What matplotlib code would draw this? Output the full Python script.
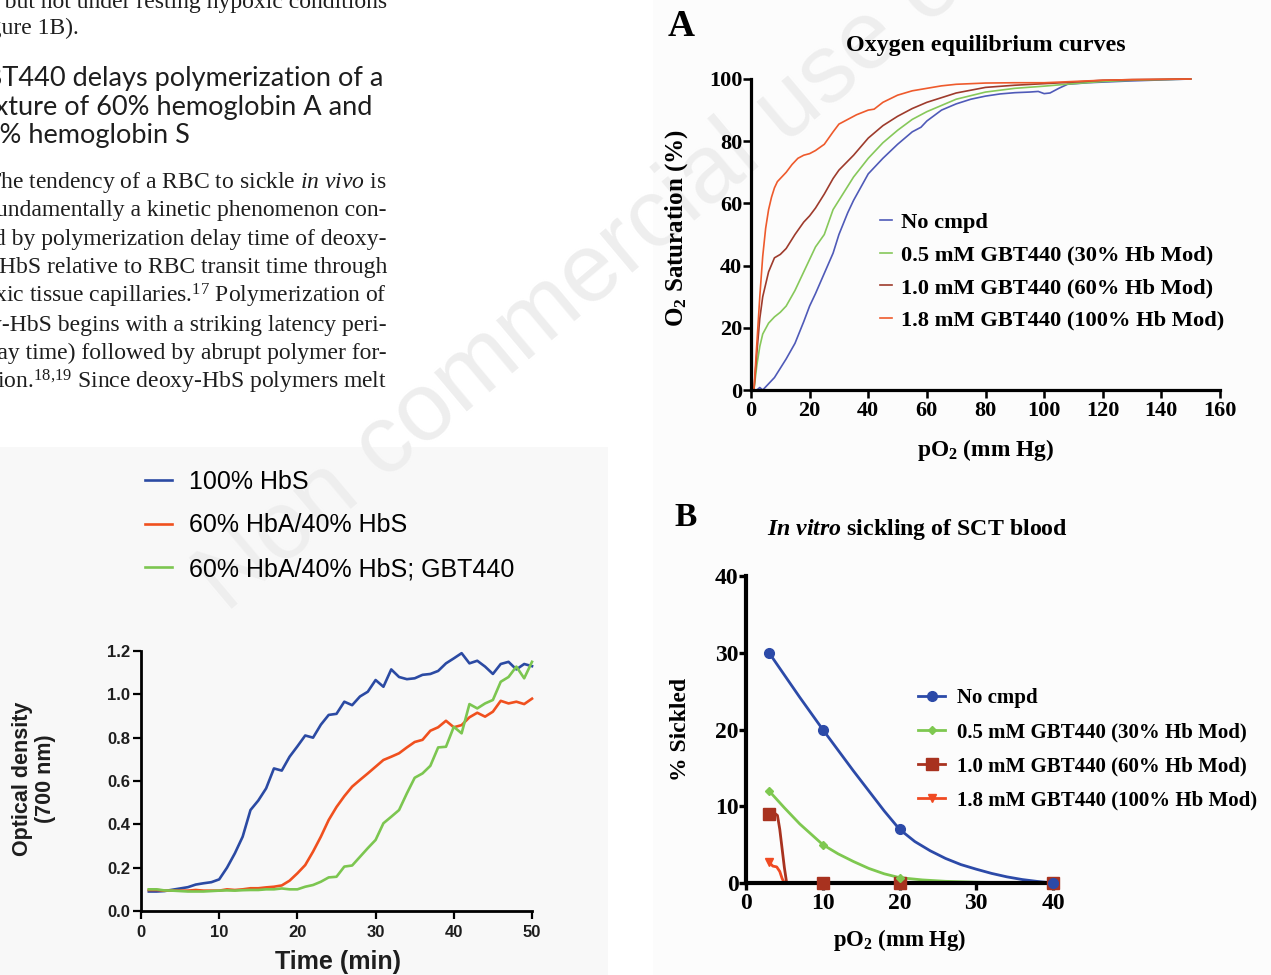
import matplotlib
matplotlib.use("Agg")
import matplotlib.pyplot as plt
from matplotlib.patches import Rectangle

# ─────────────────────────────────────────────
# DATA
# ─────────────────────────────────────────────
# left panel: turbidity (OD 700 nm) vs time
time_min = list(range(1, 51))
od_hbs = [0.09, 0.09, 0.092, 0.098, 0.104, 0.11, 0.122, 0.128, 0.133, 0.146,
          0.2, 0.266, 0.343, 0.466, 0.51, 0.566, 0.658, 0.648, 0.712, 0.76,
          0.81, 0.80, 0.86, 0.905, 0.91, 0.966, 0.95, 0.99, 1.012, 1.066,
          1.035, 1.115, 1.08, 1.07, 1.074, 1.09, 1.094, 1.108, 1.143, 1.166,
          1.19, 1.143, 1.155, 1.128, 1.094, 1.14, 1.15, 1.115, 1.14, 1.13]
od_mix = [0.097, 0.097, 0.094, 0.094, 0.094, 0.094, 0.097, 0.094, 0.094, 0.094,
          0.1, 0.097, 0.1, 0.105, 0.105, 0.109, 0.112, 0.118, 0.14, 0.174,
          0.212, 0.274, 0.343, 0.42, 0.48, 0.53, 0.574, 0.605, 0.635, 0.666,
          0.697, 0.712, 0.728, 0.755, 0.78, 0.79, 0.832, 0.848, 0.878, 0.848,
          0.858, 0.894, 0.915, 0.897, 0.92, 0.97, 0.958, 0.966, 0.955, 0.98]
od_mix_gbt = [0.1, 0.1, 0.095, 0.094, 0.092, 0.09, 0.09, 0.09, 0.092, 0.094,
              0.095, 0.094, 0.096, 0.097, 0.097, 0.1, 0.1, 0.104, 0.1, 0.1,
              0.112, 0.12, 0.135, 0.155, 0.158, 0.205, 0.21, 0.25, 0.29, 0.328,
              0.405, 0.435, 0.466, 0.543, 0.615, 0.635, 0.67, 0.755, 0.758, 0.85,
              0.82, 0.955, 0.935, 0.958, 0.974, 1.058, 1.08, 1.128, 1.074, 1.15]
od_labels = ["100% HbS", "60% HbA/40% HbS", "60% HbA/40% HbS; GBT440"]

# panel A: oxygen equilibrium curves
oec_none_x = [2, 3, 4, 5, 6, 8, 10, 12, 15, 18, 20, 22, 25, 28, 30, 33, 35, 40, 45,
              50, 55, 58, 60, 65, 70, 75, 80, 85, 90, 95, 98, 100, 102, 105, 108,
              115, 120, 130, 140, 150]
oec_none_y = [0, 0.8, 0, 1, 2, 4, 7, 10, 15, 22, 27, 31, 37.5, 44, 50, 57, 61, 69.5,
              74.5, 79, 83, 84.5, 86.5, 90, 92, 93.5, 94.5, 95.2, 95.6, 95.8, 96,
              95.3, 95.5, 97, 98.3, 98.8, 99, 99.4, 99.7, 100]
oec_05_x = [1, 2, 3, 4, 6, 8, 10, 12, 15, 18, 20, 22, 25, 28, 30, 35, 40, 45, 50,
            55, 60, 65, 70, 80, 90, 100, 110, 120, 130, 140, 150]
oec_05_y = [0, 8, 14, 18, 21.5, 23.5, 25, 27, 32, 38, 42, 46, 50, 58, 61, 68.5,
            74.5, 79.5, 83.5, 87, 89.5, 91.5, 93.5, 95.8, 97, 97.7, 98.5, 99.2,
            99.6, 99.8, 100]
oec_10_x = [1, 2, 3, 4, 5, 6, 8, 10, 12, 15, 18, 20, 22, 25, 28, 30, 35, 40, 45,
            50, 55, 60, 65, 70, 80, 90, 100, 110, 120, 130, 140, 150]
oec_10_y = [0, 12, 23, 30, 34, 38, 42.5, 43.6, 45.5, 50, 54, 56, 58.5, 63, 68,
            70.7, 75.5, 81, 85, 88, 90.5, 92.5, 94, 95.5, 97.3, 98, 98.5, 99,
            99.6, 99.8, 99.9, 100]
oec_18_x = [1, 2, 3, 4, 5, 6, 7, 8, 9, 10, 12, 14, 16, 18, 20, 22, 25, 28, 30, 33,
            36, 40, 42, 45, 50, 55, 60, 65, 70, 80, 90, 100, 110, 120, 130, 140, 150]
oec_18_y = [0, 15, 30, 43, 52, 58, 62, 65, 67, 68, 70, 72.5, 74.5, 75.5, 76, 77,
            79, 83, 85.5, 87, 88.5, 90, 90.3, 92.5, 94.8, 96.2, 97, 97.8, 98.3,
            98.7, 98.8, 98.8, 99.2, 99.6, 99.8, 99.9, 100]
oec_labels = ["No cmpd", "0.5 mM GBT440 (30% Hb Mod)",
              "1.0 mM GBT440 (60% Hb Mod)", "1.8 mM GBT440 (100% Hb Mod)"]

po2_pts = [3, 10, 20, 40]
sick_none = [30, 20, 7, 0]
sick_05 = [12, 5, 0.7, 0]
sick_10 = [9, 0, 0, 0]
sick_18 = [2.7, 0, 0, 0]
fit_none_x = [3, 5, 7, 10, 12, 14, 16, 18, 20, 22, 24, 26, 28, 30, 32, 34, 36, 38, 40]
fit_none_y = [30, 27.1, 24.2, 20, 17.3, 14.6, 12, 9.4, 7, 5.4, 4.2, 3.2, 2.4, 1.8,
              1.25, 0.8, 0.45, 0.2, 0]
fit_05_x = [3, 5, 7, 10, 12, 14, 16, 18, 20, 23, 26, 30, 35, 40]
fit_05_y = [12, 9.8, 7.7, 5, 3.8, 2.8, 1.9, 1.2, 0.7, 0.4, 0.22, 0.1, 0.03, 0]
fit_10_x = [3, 3.6, 4.1, 4.4, 4.7, 5.0, 5.3, 10, 20, 40]
fit_10_y = [9, 9.2, 8.8, 7, 4.5, 2, 0, 0, 0, 0]
fit_18_x = [3, 3.5, 4.0, 4.4, 4.7, 5.0, 10, 20, 40]
fit_18_y = [2.7, 2.2, 2.1, 1.5, 0.6, 0, 0, 0, 0]

# page text beside the figure
heading_lines = ["GBT440 delays polymerization of a",
                 "mixture of 60% hemoglobin A and",
                 "40% hemoglobin S"]
body_lines = [r"The tendency of a RBC to sickle $\mathit{in\ vivo}$ is",
              "fundamentally a kinetic phenomenon con-",
              "trolled by polymerization delay time of deoxy-",
              "HbS relative to RBC transit time through",
              r"hypoxic tissue capillaries.$^{17}$ Polymerization of",
              "deoxy-HbS begins with a striking latency peri-",
              "od (delay time) followed by abrupt polymer for-",
              r"mation.$^{18{,}19}$ Since deoxy-HbS polymers melt"]

# ─────────────────────────────────────────────
# STYLE
# ─────────────────────────────────────────────
W, H = 1271, 975
SERIF = "Liberation Serif"
SANS = "Liberation Sans"
INK = "#1e1e1e"

plt.rcParams["mathtext.fontset"] = "custom"
plt.rcParams["mathtext.rm"] = "Liberation Serif"
plt.rcParams["mathtext.it"] = "Liberation Serif:italic"
plt.rcParams["mathtext.bf"] = "Liberation Serif:bold"
plt.rcParams["mathtext.bfit"] = "Liberation Serif:italic:bold"


def fx(px):
    return px / W


def fy(py):
    return 1 - py / H


def style_axes(ax, lw, family, size, tick_len=6, xpad=3, ypad=1):
    ax.patch.set_alpha(0)
    for side in ("top", "right"):
        ax.spines[side].set_visible(False)
    for side in ("left", "bottom"):
        ax.spines[side].set_linewidth(lw)
    ax.tick_params(direction="out", length=tick_len, width=lw * 0.8)
    ax.tick_params(axis="x", pad=xpad)
    ax.tick_params(axis="y", pad=ypad)
    for lbl in ax.get_xticklabels() + ax.get_yticklabels():
        lbl.set_fontfamily(family)
        lbl.set_fontweight("bold")
        lbl.set_fontsize(size)


fig = plt.figure(figsize=(W / 100, H / 100), dpi=100)

# faint scan backgrounds of the two figure images
fig.patches.append(Rectangle((0, 0), fx(608), fy(447), transform=fig.transFigure,
                             facecolor="#f8f8f8", edgecolor="none", zorder=-3))
fig.patches.append(Rectangle((fx(653), 0), 1 - fx(653), 1, transform=fig.transFigure,
                             facecolor="#fcfcfc", edgecolor="none", zorder=-3))

# watermark
fig.text(fx(226), fy(614), "Non commercial use only", rotation=40,
         rotation_mode="anchor", ha="left", va="baseline", fontsize=70,
         family=SANS, color="#eeeeee", zorder=-1)

# ─────────────────────────────────────────────
# PAGE TEXT
# ─────────────────────────────────────────────
fig.text(fx(387), fy(8), "ease but not under resting hypoxic conditions",
         ha="right", va="baseline", fontsize=17, family=SERIF, color=INK)
fig.text(fx(79), fy(34), "(Figure 1B).", ha="right", va="baseline",
         fontsize=17, family=SERIF, color=INK)

head_base = [86, 115, 143]
head_right = [383, 372, 190]
for line, yb, xr in zip(heading_lines, head_base, head_right):
    fig.text(fx(xr), fy(yb), line, ha="right", va="baseline", fontsize=19.5,
             family="Lato", color=INK)

body_base = [188, 216, 245, 273, 302, 331, 359, 388]
for line, yb in zip(body_lines, body_base):
    fig.text(fx(387), fy(yb), line, ha="right", va="baseline", fontsize=17,
             family=SERIF, color=INK)

# ─────────────────────────────────────────────
# LEFT: polymerization kinetics
# ─────────────────────────────────────────────
ax0 = fig.add_axes([fx(141), fy(911), fx(532) - fx(141), fy(651) - fy(911)])
od_colors = ["#2b4aa3", "#f0501e", "#7cc650"]
for vals, col, lab in zip([od_hbs, od_mix, od_mix_gbt], od_colors, od_labels):
    ax0.plot(time_min, vals, color=col, lw=1.9, label=lab, clip_on=False)
ax0.set_xlim(0, 50)
ax0.set_ylim(0, 1.2)
ax0.set_xticks([0, 10, 20, 30, 40, 50])
ax0.set_yticks([0.0, 0.2, 0.4, 0.6, 0.8, 1.0, 1.2])
ax0.set_yticklabels([f"{v:.1f}" for v in ax0.get_yticks()])
style_axes(ax0, 2.0, SANS, 12, tick_len=6, xpad=4, ypad=2)
for lbl in ax0.get_xticklabels() + ax0.get_yticklabels():
    lbl.set_color(INK)
fig.text(fx(338), fy(962), "Time (min)", ha="center", va="center",
         fontsize=18, fontweight="bold", family=SANS, color=INK)
fig.text(fx(34), fy(779), "Optical density\n(700 nm)", ha="center", va="center",
         rotation=90, fontsize=15.5, fontweight="bold", family=SANS,
         color=INK, linespacing=1.15)
ax0.legend(loc="upper left", bbox_to_anchor=(fx(145), fy(470)),
           bbox_transform=fig.transFigure, frameon=False, borderpad=0,
           borderaxespad=0, handlelength=1.08, handletextpad=0.68,
           labelspacing=0.78, prop={"family": SANS, "size": 18})

# ─────────────────────────────────────────────
# PANEL A: oxygen equilibrium curves
# ─────────────────────────────────────────────
ax1 = fig.add_axes([fx(751), fy(390), fx(1220) - fx(751), fy(79) - fy(390)])
oec_colors = ["#4f5ab8", "#86c85a", "#9e3b2c", "#ee5a2c"]
oec_sets = [(oec_none_x, oec_none_y), (oec_05_x, oec_05_y),
            (oec_10_x, oec_10_y), (oec_18_x, oec_18_y)]
for (xs, ys), col, lab in zip(oec_sets, oec_colors, oec_labels):
    ax1.plot(xs, ys, color=col, lw=1.2, label=lab, clip_on=False)
ax1.set_xlim(0, 160)
ax1.set_ylim(0, 100)
ax1.set_xticks(range(0, 161, 20))
ax1.set_yticks(range(0, 101, 20))
style_axes(ax1, 2.3, SERIF, 16, tick_len=6, xpad=2, ypad=0.3)
fig.text(fx(668), fy(27), "A", ha="left", va="center", fontsize=27,
         fontweight="bold", family=SERIF)
fig.text(fx(986), fy(45), "Oxygen equilibrium curves", ha="center",
         va="center", fontsize=17.3, fontweight="bold", family=SERIF)
fig.text(fx(677), fy(228), r"$\mathbf{O_2}$ Saturation (%)", ha="center",
         va="center", rotation=90, fontsize=18, fontweight="bold",
         family=SERIF)
fig.text(fx(986), fy(450), r"p$\mathbf{O_2}$ (mm Hg)", ha="center",
         va="center", fontsize=16.8, fontweight="bold", family=SERIF)
ax1.legend(loc="upper left", bbox_to_anchor=(fx(880), fy(212)),
           bbox_transform=fig.transFigure, frameon=False, borderpad=0,
           borderaxespad=0, handlelength=0.55, handletextpad=0.4,
           labelspacing=0.53, prop={"family": SERIF, "size": 16.2,
                                    "weight": "bold"})

# ─────────────────────────────────────────────
# PANEL B: in vitro sickling
# ─────────────────────────────────────────────
ax2 = fig.add_axes([fx(746), fy(883), fx(1053) - fx(746), fy(576) - fy(883)])
b_specs = [
    (fit_18_x, fit_18_y, sick_18, "#f04a22", "v", 6, oec_labels[3]),
    (fit_10_x, fit_10_y, sick_10, "#a8321f", "s", 8.5, oec_labels[2]),
    (fit_05_x, fit_05_y, sick_05, "#7ec850", "D", 4.5, oec_labels[1]),
    (fit_none_x, fit_none_y, sick_none, "#2c4aa8", "o", 7, oec_labels[0]),
]
handles = {}
for fxs, fys, pts, col, mk, ms, lab in b_specs:
    ax2.plot(fxs, fys, color=col, lw=2.0, clip_on=False, zorder=2)
    ax2.plot(po2_pts, pts, ls="none", marker=mk, ms=ms, color=col,
             clip_on=False, zorder=4)
    handles[lab], = ax2.plot([], [], color=col, lw=2.0, marker=mk, ms=ms)
ax2.set_xlim(0, 40)
ax2.set_ylim(0, 40)
ax2.set_xticks(range(0, 41, 10))
ax2.set_yticks(range(0, 41, 10))
style_axes(ax2, 3.0, SERIF, 17, tick_len=5, xpad=2, ypad=0.3)
fig.text(fx(686), fy(517), "B", ha="center", va="center", fontsize=24,
         fontweight="bold", family=SERIF)
fig.text(fx(917), fy(530), r"$\mathbfit{In\ vitro}$ sickling of SCT blood",
         ha="center", va="center", fontsize=17.2, fontweight="bold",
         family=SERIF)
fig.text(fx(680), fy(729), "% Sickled", ha="center", va="center",
         rotation=90, fontsize=17, fontweight="bold", family=SERIF)
fig.text(fx(900), fy(940), r"p$\mathbf{O_2}$ (mm Hg)", ha="center",
         va="center", fontsize=16.4, fontweight="bold", family=SERIF)
ax2.legend([handles[l] for l in oec_labels], oec_labels, loc="upper left",
           bbox_to_anchor=(fx(918), fy(688)), bbox_transform=fig.transFigure,
           frameon=False, borderpad=0, borderaxespad=0, handlelength=1.3,
           handletextpad=0.55, labelspacing=0.68,
           prop={"family": SERIF, "size": 15, "weight": "bold"})

fig.savefig("out.png", dpi=100)
